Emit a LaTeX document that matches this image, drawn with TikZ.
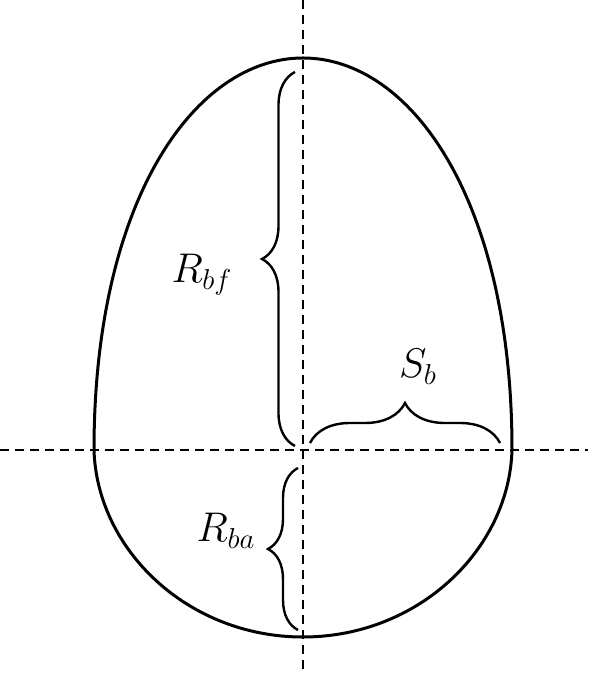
\documentclass[tikz,border=0pt]{standalone}
\usetikzlibrary{decorations.pathreplacing}
\begin{document}
\begin{tikzpicture}[x=0.5pt,y=0.5pt]
\tikzset{accolade/.style={decorate, decoration={brace, amplitude=#1}, line width=1.2pt},
  axe/.style={line width=1.3pt, dash pattern=on 4.5pt off 3pt},
  etiquette/.style={font=\fontsize{21}{25}\selectfont, inner sep=0pt}}
\useasboundingbox (-303,-223) rectangle (285,450);
% l'oeuf
\draw[line width=1.5pt] (-209,0) .. controls (-209,250) and (-108,392) .. (0,392)
  .. controls (108,392) and (209,250) .. (209,0)
  .. controls (206,-100) and (115,-187) .. (0,-187)
  .. controls (-115,-187) and (-206,-100) .. cycle;
% axes
\coordinate (H) at (0,450);
\coordinate (B) at (0,-223);
\coordinate (G) at (-303,0);
\coordinate (D) at (285,0);
\draw[axe] (H) -- (B);
\draw[axe] (G) -- (D);
% accolades
\coordinate (F1) at (-8,4);
\coordinate (F2) at (-8,378);
\coordinate (S1) at (7,7);
\coordinate (S2) at (197,7);
\coordinate (A1) at (-5,-180);
\coordinate (A2) at (-5,-18);
\draw[accolade=16.5pt] (F1) -- (F2);
\draw[accolade=20pt] (S1) -- (S2);
\draw[accolade=15pt] (A1) -- (A2);
\node[etiquette, anchor=base] (Rbf) at (-101,167) {$R_{bf}$};
\node[etiquette, anchor=base] (Sb) at (115,72) {$S_b$};
\node[etiquette, anchor=base] (Rba) at (-77,-92) {$R_{ba}$};
\end{tikzpicture}
\end{document}
